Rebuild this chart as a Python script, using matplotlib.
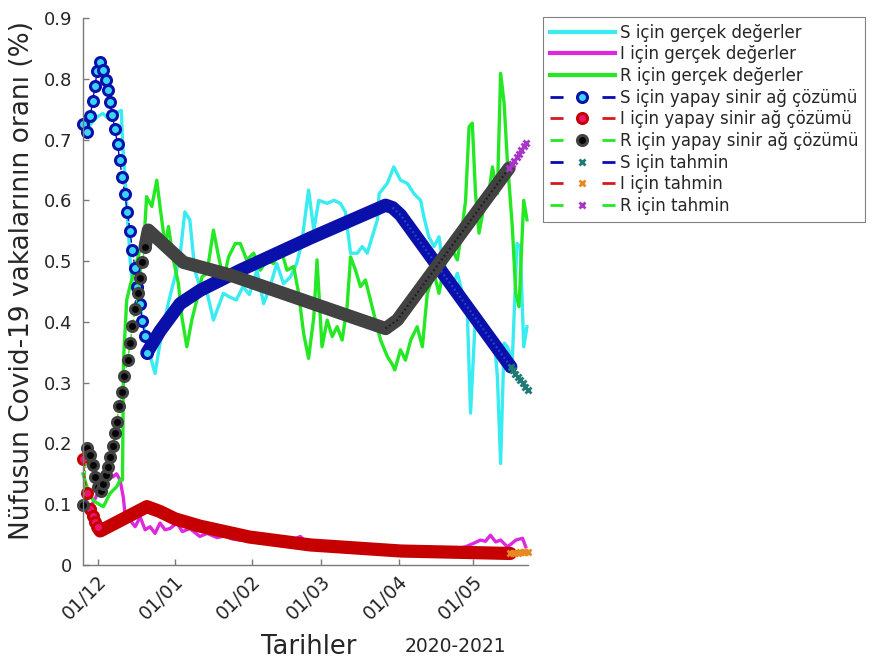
import numpy as np
import matplotlib
matplotlib.use('Agg')
import matplotlib.pyplot as plt
import matplotlib.dates as mdates
from matplotlib.lines import Line2D
from matplotlib.transforms import ScaledTranslation

# first day of the series, all x values below are days after it
start_day = np.datetime64('2020-11-25')

# real values (day, ratio)
s_real = [(0, 0.715), (2, 0.72), (4, 0.73), (6, 0.738), (8, 0.743), (10, 0.735), (12, 0.74),
          (14, 0.745), (15.4, 0.748), (16, 0.69), (17.5, 0.60), (19, 0.50), (20, 0.458),
          (22, 0.447), (24, 0.403), (26, 0.359), (29, 0.315), (31, 0.365), (34, 0.425),
          (36, 0.458), (39, 0.507), (41, 0.581), (43, 0.568), (45, 0.485), (47, 0.458),
          (50, 0.447), (52.5, 0.403), (56.5, 0.447), (59, 0.441), (61.7, 0.436), (64.4, 0.458),
          (67, 0.445), (70, 0.485), (72.7, 0.430), (75.3, 0.458), (78, 0.496), (80.7, 0.463),
          (83.5, 0.474), (86, 0.496), (88, 0.529), (90.8, 0.617), (92.9, 0.551), (94.9, 0.600),
          (98.3, 0.595), (101, 0.600), (103.6, 0.595), (105.6, 0.581), (107.7, 0.513),
          (110.4, 0.513), (112.4, 0.524), (114.4, 0.513), (116.4, 0.540), (118.5, 0.568),
          (119.2, 0.611), (122.5, 0.628), (125.1, 0.655), (127.8, 0.633), (130.5, 0.628),
          (133.2, 0.611), (135.9, 0.600), (137.2, 0.573), (139.2, 0.540), (141.3, 0.524),
          (143.3, 0.540), (144.6, 0.502), (146.7, 0.480), (148.7, 0.458), (150.7, 0.480),
          (152.7, 0.447), (154.7, 0.414), (156, 0.250), (158, 0.414), (160, 0.408),
          (162.8, 0.381), (165.5, 0.376), (166.8, 0.310), (168.1, 0.167), (169.5, 0.365),
          (170.8, 0.359), (172.8, 0.337), (174.7, 0.529), (176, 0.524), (177.4, 0.359),
          (178.7, 0.392)]

i_real = [(0, 0.105), (1.5, 0.10), (3, 0.095), (5, 0.11), (7, 0.13), (9.3, 0.145), (10.5, 0.148),
          (12, 0.145), (13.5, 0.15), (14.9, 0.14), (16.2, 0.112), (16.9, 0.085), (18.9, 0.074),
          (21, 0.063), (23, 0.079), (25, 0.058), (27, 0.063), (29, 0.052), (31, 0.069),
          (33, 0.058), (35, 0.060), (37.8, 0.069), (40, 0.055), (43, 0.060), (47, 0.047),
          (50, 0.052), (54, 0.045), (57, 0.048), (60, 0.043), (63.3, 0.041), (67, 0.045),
          (70, 0.044), (74, 0.040), (78, 0.042), (83, 0.038), (87.5, 0.047), (90, 0.036),
          (95, 0.035), (100, 0.033), (105, 0.031), (110, 0.030), (115, 0.029), (120, 0.028),
          (125, 0.028), (130, 0.027), (135, 0.028), (140, 0.029), (145, 0.027), (150, 0.026),
          (154, 0.030), (157.4, 0.036), (160, 0.041), (162, 0.039), (164, 0.049), (166.1, 0.038),
          (168.1, 0.041), (170.8, 0.030), (172.5, 0.035), (174.2, 0.041), (176.9, 0.044),
          (178.2, 0.030)]

r_real = [(0, 0.15), (2, 0.123), (4, 0.107), (6, 0.101), (8.2, 0.096), (10.9, 0.118), (13.6, 0.129),
          (14.9, 0.14), (15.9, 0.14), (16.3, 0.337), (17.6, 0.436), (19, 0.46), (21, 0.49),
          (23, 0.52), (24.9, 0.557), (25.6, 0.606), (27.7, 0.590), (29.7, 0.633), (31, 0.590),
          (33.1, 0.524), (34.4, 0.557), (36.4, 0.502), (38.4, 0.463), (39.8, 0.408),
          (41.8, 0.359), (43.8, 0.403), (45.8, 0.436), (47.9, 0.474), (49.9, 0.480),
          (52.5, 0.551), (54.6, 0.507), (56.6, 0.469), (58.6, 0.507), (61.3, 0.529),
          (63.3, 0.529), (65.9, 0.502), (68.7, 0.513), (71.4, 0.485), (74, 0.502), (76.7, 0.496),
          (79.4, 0.524), (82.1, 0.485), (84.8, 0.491), (86.8, 0.447), (88.8, 0.381),
          (90.8, 0.340), (92.9, 0.408), (94.2, 0.502), (96.2, 0.359), (98.3, 0.403),
          (100.3, 0.376), (102.3, 0.392), (104.3, 0.370), (106.3, 0.425), (107.7, 0.507),
          (109.7, 0.485), (111.7, 0.458), (113.7, 0.469), (115.7, 0.436), (117.7, 0.403),
          (119.8, 0.370), (122.5, 0.343), (124.5, 0.330), (125.5, 0.321), (127.8, 0.354),
          (129.8, 0.337), (131.9, 0.370), (134.5, 0.392), (136.6, 0.359), (138.6, 0.447),
          (141.3, 0.480), (143.3, 0.447), (145.3, 0.491), (148, 0.524), (150.7, 0.502),
          (152.7, 0.557), (154, 0.600), (155.4, 0.721), (156.7, 0.727), (158, 0.611),
          (159.4, 0.546), (161.4, 0.590), (162.8, 0.595), (164.8, 0.655), (166.8, 0.611),
          (168.1, 0.809), (169.5, 0.760), (170.8, 0.666), (172.8, 0.557), (174.2, 0.447),
          (175.5, 0.425), (177.4, 0.600), (178.7, 0.568)]

# neural network solutions: daily points first, then the smooth part
s_nn = [(0, 0.726), (1.6, 0.713), (2.9, 0.738), (3.9, 0.763), (4.8, 0.788), (5.7, 0.812),
        (6.9, 0.827), (7.9, 0.814), (9.1, 0.798), (10.1, 0.781), (10.9, 0.762), (11.8, 0.740),
        (12.9, 0.717), (13.9, 0.692), (14.8, 0.666), (15.7, 0.639), (16.8, 0.610), (17.9, 0.580),
        (18.9, 0.550), (19.9, 0.518), (20.9, 0.488), (21.9, 0.458), (22.9, 0.430), (23.9, 0.402),
        (24.9, 0.376), (25.7, 0.349), (31, 0.385), (39.1, 0.430), (47.2, 0.452), (63.3, 0.485),
        (91.5, 0.538), (121.8, 0.592), (124.6, 0.588), (127.8, 0.576), (172.2, 0.326)]
s_nn_daily = 26

i_nn = [(0, 0.175), (1.5, 0.118), (2.8, 0.092), (3.9, 0.080), (4.8, 0.070), (5.9, 0.062),
        (6.9, 0.056), (25.7, 0.096), (31, 0.088), (37, 0.076), (47, 0.064), (67, 0.046),
        (91.5, 0.033), (128, 0.023), (172, 0.019)]
i_nn_daily = 6

r_nn = [(0, 0.099), (1.7, 0.192), (2.8, 0.181), (3.9, 0.165), (4.8, 0.145), (6.2, 0.129),
        (7.1, 0.121), (8.2, 0.134), (9.3, 0.148), (10.2, 0.161), (10.9, 0.177), (12, 0.196),
        (12.9, 0.217), (13.6, 0.236), (14.6, 0.262), (15.6, 0.285), (16.7, 0.311), (18, 0.337),
        (19, 0.366), (19.9, 0.394), (21, 0.421), (22.1, 0.447), (23, 0.473), (23.9, 0.499),
        (25, 0.524), (26.3, 0.551), (40.4, 0.498), (59.3, 0.477), (121.8, 0.389),
        (126.5, 0.403), (171.5, 0.653)]
r_nn_daily = 25

# forecasts
s_fc = [(172.2, 0.326), (173, 0.321), (174, 0.315), (175, 0.310), (176, 0.304), (177, 0.299),
        (178, 0.293), (179, 0.288)]
i_fc = [(172, 0.020), (173, 0.020), (174, 0.020), (175, 0.020), (176, 0.021), (177, 0.021),
        (178, 0.021), (179, 0.021)]
r_fc = [(171.5, 0.653), (172.5, 0.659), (173.5, 0.665), (174.5, 0.671), (175.5, 0.677),
        (176.5, 0.683), (177.5, 0.689), (178.5, 0.695)]

tick_dates = ['2020-12-01', '2021-01-01', '2021-02-01', '2021-03-01', '2021-04-01', '2021-05-01']
tick_labels = ['01/12', '01/01', '01/02', '01/03', '01/04', '01/05']
y_ticks = [0, 0.1, 0.2, 0.3, 0.4, 0.5, 0.6, 0.7, 0.8, 0.9]
y_tick_labels = ['0', '0.1', '0.2', '0.3', '0.4', '0.5', '0.6', '0.7', '0.8', '0.9']

legend_labels = ['S için gerçek değerler', 'I için gerçek değerler', 'R için gerçek değerler',
                 'S için yapay sinir ağ çözümü', 'I için yapay sinir ağ çözümü',
                 'R için yapay sinir ağ çözümü', 'S için tahmin', 'I için tahmin', 'R için tahmin']

# colours
c_cyan, c_mag, c_green = '#38ECF2', '#DE28DE', '#24E824'
c_blue, c_red = '#0A0AB4', '#D41A1A'
s_edge, s_fill, s_tex = '#0A10AA', '#38D6F6', '#2F50E0'
i_edge, i_fill = '#C60000', '#EE1470'
r_edge, r_fill, r_tex = '#424242', '#050505', '#141414'
s_fc_col, i_fc_col, r_fc_col = '#1E7A74', '#E58A22', '#A834C8'

plt.rcParams['font.family'] = ['DejaVu Sans']
plt.rcParams['text.color'] = '#262626'


def xy(pairs):
    d, v = zip(*pairs)
    return mdates.date2num(start_day) + np.array(d), np.array(v)


fig = plt.figure(figsize=(8.76, 6.62), dpi=100)
ax = fig.add_axes([83 / 876, 97 / 662, 444.7 / 876, 547 / 662])

# real values
for pairs, col in [(s_real, c_cyan), (i_real, c_mag), (r_real, c_green)]:
    x, y = xy(pairs)
    ax.plot(x, y, color=col, lw=2.4, solid_joinstyle='round', clip_on=False)

# neural network solutions
# (index where the band texture starts: the descending S part, the rising R part)
MS, MEW, BAND = 7.2, 2.2, 9.5
nn_specs = [(s_nn, s_nn_daily, 32, c_blue, s_edge, s_fill, s_tex),
            (i_nn, i_nn_daily, None, c_red, i_edge, i_fill, None),
            (r_nn, r_nn_daily, 28, c_green, r_edge, r_fill, r_tex)]
for pairs, k, t, lcol, edge, fill, tex in nn_specs:
    x, y = xy(pairs)
    ax.plot(x, y, '--', color=lcol, lw=1, clip_on=False)
    ax.plot(x[k - 1:], y[k - 1:], '-', color=edge, lw=BAND, solid_capstyle='round',
            solid_joinstyle='round', clip_on=False)
    if tex is not None:
        ax.plot(x[t:], y[t:], color=tex, lw=1.6, dashes=(0.8, 1.2), alpha=0.8, clip_on=False)
    ax.plot(x[:k], y[:k], 'o', ms=MS, mew=MEW, mec=edge, mfc=fill, clip_on=False)

# forecasts
for pairs, lcol, mcol in [(s_fc, c_blue, s_fc_col), (i_fc, c_red, i_fc_col), (r_fc, c_green, r_fc_col)]:
    x, y = xy(pairs)
    ax.plot(x, y, '--', color=lcol, lw=1, marker='x', ms=5, mew=2, mec=mcol, clip_on=False)

# axes
ax.set_xlim(mdates.date2num(start_day), mdates.date2num(start_day) + 179)
ax.set_ylim(0, 0.9)
ax.set_xticks(mdates.date2num(np.array(tick_dates, dtype='datetime64[D]')))
ax.set_xticklabels(tick_labels)
ax.set_yticks(y_ticks)
ax.set_yticklabels(y_tick_labels)
ax.spines['top'].set_visible(False)
ax.spines['right'].set_visible(False)
for side in ['left', 'bottom']:
    ax.spines[side].set_color('#7a7a7a')
    ax.spines[side].set_linewidth(1.0)
ax.tick_params(direction='in', length=4, width=1, color='#7a7a7a', labelcolor='#262626',
               labelsize=13)
ax.tick_params(axis='y', pad=8)
ax.tick_params(axis='x', pad=10, labelsize=13.5)
shift = ScaledTranslation(6 / 100, 0, fig.dpi_scale_trans)
for lbl in ax.get_xticklabels():
    lbl.set_rotation(45)
    lbl.set_ha('right')
    lbl.set_va('center')
    lbl.set_rotation_mode('anchor')
    lbl.set_transform(lbl.get_transform() + shift)

fig.text(22 / 876, 1 - 280 / 662, 'Nüfusun Covid-19 vakalarının oranı (%)', rotation=90,
         ha='center', va='center', fontsize=19)
fig.text(309 / 876, 1 - 647 / 662, 'Tarihler', ha='center', va='center', fontsize=18.5)
fig.text(455 / 876, 1 - 647 / 662, '2020-2021', ha='center', va='center', fontsize=13.5)

# legend
dash = (4.7, 14)
handles = [Line2D([], [], color=c_cyan, lw=3), Line2D([], [], color=c_mag, lw=3),
           Line2D([], [], color=c_green, lw=3)]
for lcol, edge, fill in [(c_blue, s_edge, s_fill), (c_red, i_edge, i_fill), (c_green, r_edge, r_fill)]:
    handles.append(Line2D([], [], color=lcol, lw=2, dashes=dash, marker='o', ms=MS, mew=MEW,
                          mec=edge, mfc=fill))
for lcol, mcol in [(c_blue, s_fc_col), (c_red, i_fc_col), (c_green, r_fc_col)]:
    handles.append(Line2D([], [], color=lcol, lw=2, dashes=dash, marker='x', ms=5, mew=2,
                          mec=mcol))
leg = fig.legend(handles, legend_labels, loc='upper left', bbox_to_anchor=(543 / 876, 1 - 17 / 662),
                 bbox_transform=fig.transFigure, borderaxespad=0, fontsize=12, handlelength=3.9,
                 handletextpad=0.3, labelspacing=0.22, fancybox=False, framealpha=1,
                 edgecolor='#808080')
leg.get_frame().set_linewidth(0.8)

fig.savefig('out.png', dpi=100)
